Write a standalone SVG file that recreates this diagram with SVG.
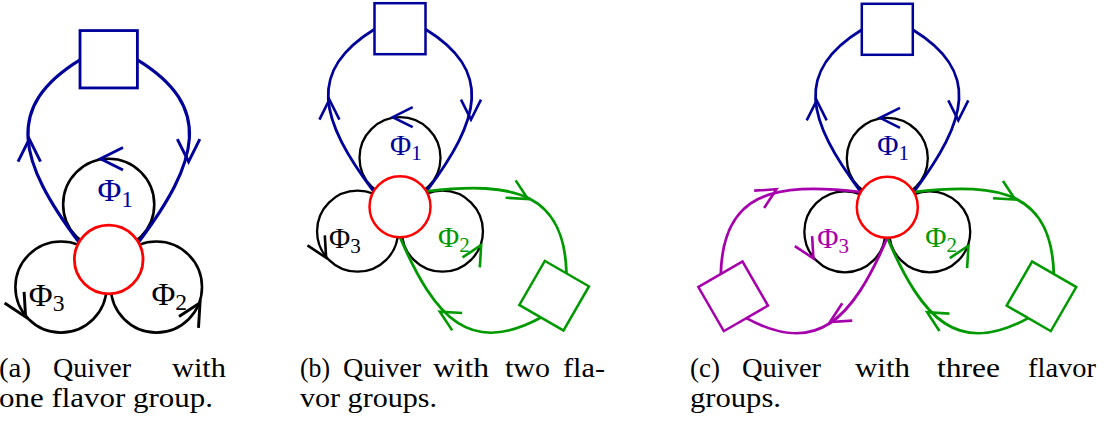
<svg xmlns="http://www.w3.org/2000/svg" xmlns:xlink="http://www.w3.org/1999/xlink" width="1106" height="423" viewBox="0 0 1106 423">
<style>
.loop{fill:none;stroke:#000;stroke-width:2.3}
.gauge{fill:#fff;stroke:#ff0000;stroke-width:2.5}
.conn{fill:none;stroke-width:2.8}
.flav{fill:#fff;stroke-width:2.5}
.ah{fill:none;stroke-width:2.6}
.kb{stroke:#00009a}.kg{stroke:#009900}.kp{stroke:#a600ad}.kk{stroke:#000}
.lbl{font-family:"Liberation Serif","DejaVu Serif",serif;font-size:29px}
.sub{font-size:21px}
.tb{fill:#00009a}.tg{fill:#009900}.tp{fill:#a600ad}.tk{fill:#000}
.cap{font-family:"Liberation Serif","DejaVu Serif",serif;font-size:28px;fill:#000}
</style>
<defs>
<path id="ah" d="M-20,-10 L0,0 L-20,10"/>
<path id="cl" d="M-26.4,-15.25 C-80.4,-87.25 -93.5,-135.9 -25.5,-177.5"/>
<path id="cr" d="M25.5,-177.5 C93.5,-135.9 80.4,-87.25 26.4,-15.25"/>
</defs>

<!-- Panel (a) -->
<g id="panel-a" transform="translate(108.7,259.5) scale(1.125)">
  <g id="a-connectors">
    <circle class="loop" cx="0" cy="-49" r="40.5"/>
    <circle class="loop" cx="42.44" cy="24.5" r="40.5"/>
    <circle class="loop" cx="-42.44" cy="24.5" r="40.5"/>
    <use xlink:href="#cl" class="conn kb"/>
    <use xlink:href="#cr" class="conn kb"/>
  </g>
  <g id="a-gauge"><circle class="gauge" cx="0" cy="0" r="30.5"/></g>
  <g id="a-flavor"><rect class="flav kb" x="-25.5" y="-203.5" width="51" height="51"/></g>
  <g id="a-arrows">
    <use xlink:href="#ah" class="ah kb" transform="translate(-70.6,-107) rotate(-90)"/>
    <use xlink:href="#ah" class="ah kb" transform="translate(71,-87) rotate(90)"/>
    <use xlink:href="#ah" class="ah kb" transform="translate(-7.3,-89.5) rotate(180)"/>
    <use xlink:href="#ah" class="ah kk" transform="rotate(120) translate(-7.3,-89.5) rotate(180)"/>
    <use xlink:href="#ah" class="ah kk" transform="rotate(240) translate(-7.3,-89.5) rotate(180)"/>
  </g>
  <text class="lbl tb" x="-10" y="-52">Φ<tspan class="sub" dy="5">1</tspan></text>
  <text class="lbl tk" x="38" y="40">Φ<tspan class="sub" dy="5">2</tspan></text>
  <text class="lbl tk" x="-71" y="41">Φ<tspan class="sub" dy="5">3</tspan></text>
</g>

<!-- Panel (b) -->
<g id="panel-b" transform="translate(400,206.7)">
  <g id="b-connectors">
    <circle class="loop" cx="0" cy="-49" r="40.5"/>
    <circle class="loop" cx="42.44" cy="24.5" r="40.5"/>
    <circle class="loop" cx="-42.44" cy="24.5" r="40.5"/>
    <use xlink:href="#cl" class="conn kb"/>
    <use xlink:href="#cr" class="conn kb"/>
    <g transform="rotate(120)">
      <use xlink:href="#cl" class="conn kg"/>
      <use xlink:href="#cr" class="conn kg"/>
    </g>
  </g>
  <g id="b-gauge"><circle class="gauge" cx="0" cy="0" r="30.5"/></g>
  <g id="b-flavor1"><rect class="flav kb" x="-25.5" y="-203.5" width="51" height="51"/></g>
  <g id="b-flavor2" transform="rotate(120)"><rect class="flav kg" x="-25.5" y="-203.5" width="51" height="51"/></g>
  <g id="b-arrows">
    <use xlink:href="#ah" class="ah kb" transform="translate(-70.6,-107) rotate(-90)"/>
    <use xlink:href="#ah" class="ah kb" transform="translate(71,-87) rotate(90)"/>
    <use xlink:href="#ah" class="ah kg" transform="rotate(120) translate(-70.6,-107) rotate(-90)"/>
    <use xlink:href="#ah" class="ah kg" transform="rotate(120) translate(71,-87) rotate(90)"/>
    <use xlink:href="#ah" class="ah kb" transform="translate(-7.3,-89.5) rotate(180)"/>
    <use xlink:href="#ah" class="ah kg" transform="rotate(120) translate(-7.3,-89.5) rotate(180)"/>
    <use xlink:href="#ah" class="ah kk" transform="rotate(240) translate(-7.3,-89.5) rotate(180)"/>
  </g>
  <text class="lbl tb" x="-10" y="-52">Φ<tspan class="sub" dy="5">1</tspan></text>
  <text class="lbl tg" x="38" y="40">Φ<tspan class="sub" dy="5">2</tspan></text>
  <text class="lbl tk" x="-71" y="41">Φ<tspan class="sub" dy="5">3</tspan></text>
</g>

<!-- Panel (c) -->
<g id="panel-c" transform="translate(887.3,207.3)">
  <g id="c-connectors">
    <circle class="loop" cx="0" cy="-49" r="40.5"/>
    <circle class="loop" cx="42.44" cy="24.5" r="40.5"/>
    <circle class="loop" cx="-42.44" cy="24.5" r="40.5"/>
    <use xlink:href="#cl" class="conn kb"/>
    <use xlink:href="#cr" class="conn kb"/>
    <g transform="rotate(120)">
      <use xlink:href="#cl" class="conn kg"/>
      <use xlink:href="#cr" class="conn kg"/>
    </g>
    <g transform="rotate(240)">
      <use xlink:href="#cl" class="conn kp"/>
      <use xlink:href="#cr" class="conn kp"/>
    </g>
  </g>
  <g id="c-gauge"><circle class="gauge" cx="0" cy="0" r="30.5"/></g>
  <g id="c-flavor1"><rect class="flav kb" x="-25.5" y="-203.5" width="51" height="51"/></g>
  <g id="c-flavor2" transform="rotate(120)"><rect class="flav kg" x="-25.5" y="-203.5" width="51" height="51"/></g>
  <g id="c-flavor3" transform="rotate(240)"><rect class="flav kp" x="-25.5" y="-203.5" width="51" height="51"/></g>
  <g id="c-arrows">
    <use xlink:href="#ah" class="ah kb" transform="translate(-70.6,-107) rotate(-90)"/>
    <use xlink:href="#ah" class="ah kb" transform="translate(71,-87) rotate(90)"/>
    <use xlink:href="#ah" class="ah kg" transform="rotate(120) translate(-70.6,-107) rotate(-90)"/>
    <use xlink:href="#ah" class="ah kg" transform="rotate(120) translate(71,-87) rotate(90)"/>
    <use xlink:href="#ah" class="ah kp" transform="rotate(240) translate(-70.6,-107) rotate(-90)"/>
    <use xlink:href="#ah" class="ah kp" transform="rotate(240) translate(71,-87) rotate(90)"/>
    <use xlink:href="#ah" class="ah kb" transform="translate(-7.3,-89.5) rotate(180)"/>
    <use xlink:href="#ah" class="ah kg" transform="rotate(120) translate(-7.3,-89.5) rotate(180)"/>
    <use xlink:href="#ah" class="ah kp" transform="rotate(240) translate(-7.3,-89.5) rotate(180)"/>
  </g>
  <text class="lbl tb" x="-10" y="-52">Φ<tspan class="sub" dy="5">1</tspan></text>
  <text class="lbl tg" x="38" y="40">Φ<tspan class="sub" dy="5">2</tspan></text>
  <text class="lbl tp" x="-70" y="41">Φ<tspan class="sub" dy="5">3</tspan></text>
</g>

<!-- Captions -->
<g id="caption-a">
  <text class="cap" x="-1" y="377" textLength="32" lengthAdjust="spacingAndGlyphs">(a)</text>
  <text class="cap" x="53" y="377" textLength="78" lengthAdjust="spacingAndGlyphs">Quiver</text>
  <text class="cap" x="172" y="377" textLength="54" lengthAdjust="spacingAndGlyphs">with</text>
  <text class="cap" x="-1" y="407" textLength="214" lengthAdjust="spacingAndGlyphs">one flavor group.</text>
</g>
<g id="caption-b">
  <text class="cap" x="300" y="377" textLength="30" lengthAdjust="spacingAndGlyphs">(b)</text>
  <text class="cap" x="343" y="377" textLength="78" lengthAdjust="spacingAndGlyphs">Quiver</text>
  <text class="cap" x="433" y="377" textLength="56" lengthAdjust="spacingAndGlyphs">with</text>
  <text class="cap" x="505" y="377" textLength="45" lengthAdjust="spacingAndGlyphs">two</text>
  <text class="cap" x="563" y="377" textLength="42" lengthAdjust="spacingAndGlyphs">fla-</text>
  <text class="cap" x="300" y="407" textLength="137" lengthAdjust="spacingAndGlyphs">vor groups.</text>
</g>
<g id="caption-c">
  <text class="cap" x="690" y="377" textLength="30" lengthAdjust="spacingAndGlyphs">(c)</text>
  <text class="cap" x="742" y="377" textLength="79" lengthAdjust="spacingAndGlyphs">Quiver</text>
  <text class="cap" x="855" y="377" textLength="55" lengthAdjust="spacingAndGlyphs">with</text>
  <text class="cap" x="937" y="377" textLength="63" lengthAdjust="spacingAndGlyphs">three</text>
  <text class="cap" x="1028" y="377" textLength="68" lengthAdjust="spacingAndGlyphs">flavor</text>
  <text class="cap" x="690" y="407" textLength="91" lengthAdjust="spacingAndGlyphs">groups.</text>
</g>
</svg>
